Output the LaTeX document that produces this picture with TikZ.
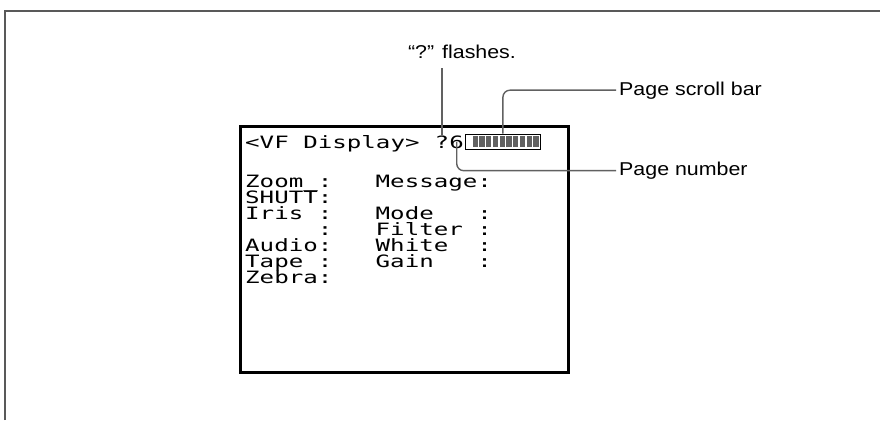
\documentclass[tikz,border=0pt]{standalone}
\usepackage{xcolor}
\usepackage{fontspec}
\setmainfont{Liberation Sans}[FakeStretch=1.15]
\newfontfamily\lcdfont{DejaVu Sans Mono}[FakeStretch=1.42]
\usepackage{tikz}
\usetikzlibrary{positioning}

\newcommand{\blank}{\hphantom{0}}

\begin{document}
\begin{tikzpicture}[
    x=1pt, y=-1pt,
    lcd/.style={inner sep=0pt, anchor=base west, font=\lcdfont\fontsize{17}{17}\selectfont},
    callout/.style={inner sep=0pt, inner xsep=3pt, anchor=base west, font=\fontsize{18.6}{20}\selectfont},
    leader/.style={draw=black!62, line width=1.4pt, rounded corners=7pt},
]
\useasboundingbox (0,0) rectangle (880,420);
\draw[black!65, line width=2pt] (5,420) -- (5,11) -- (880,11);

% viewfinder screen
\node[draw, line width=2.6pt, minimum width=328pt, minimum height=246pt, anchor=north west] (screen) at (239,125) {};
\node[lcd] (title) at (245,148) {<VF\blank Display>\blank};
\node[lcd] (q) at (title.base east) {?};
\node[lcd] (pg) at (q.base east) {6};

% page scroll bar
\node[draw, line width=0.8pt, inner sep=0pt, minimum width=75pt, minimum height=15pt, anchor=west] (bar) at (465,141.5) {};
\foreach \i in {0,...,9}
  \fill[black!62] (472.6+\i*6.75,135.6) rectangle +(5.2,11.8);

\foreach \lft/\rgt [count=\r from 0] in {Zoom\_:/Message:, SHUTT:/{}, Iris\blank:/Mode\blank\blank\blank:, \blank\blank\blank\blank\blank:/Filter\blank:, Audio:/White\blank\blank:, Tape\blank:/Gain\blank\blank\blank:, Zebra:/{}}
{
  \node[lcd] (left\r) at (245,187+16*\r) {\lft};
  \node[lcd] (right\r) at (375.5,187+16*\r) {\rgt};
}

% callouts
\node[inner sep=0pt, anchor=base, font=\fontsize{18.6}{20}\selectfont] (flash) at (462,59) {“?” flashes.};
\node[callout] (scroll) at (616,95) {Page scroll bar};
\node[callout] (pnum) at (616,175.5) {Page number};

\draw[leader] ([yshift=-9pt]flash.south -| q.north) -- (q.north);
\draw[leader] (bar.north) |- (scroll.west);
\draw[leader] (pg.center) |- (pnum.west);
\end{tikzpicture}
\end{document}
